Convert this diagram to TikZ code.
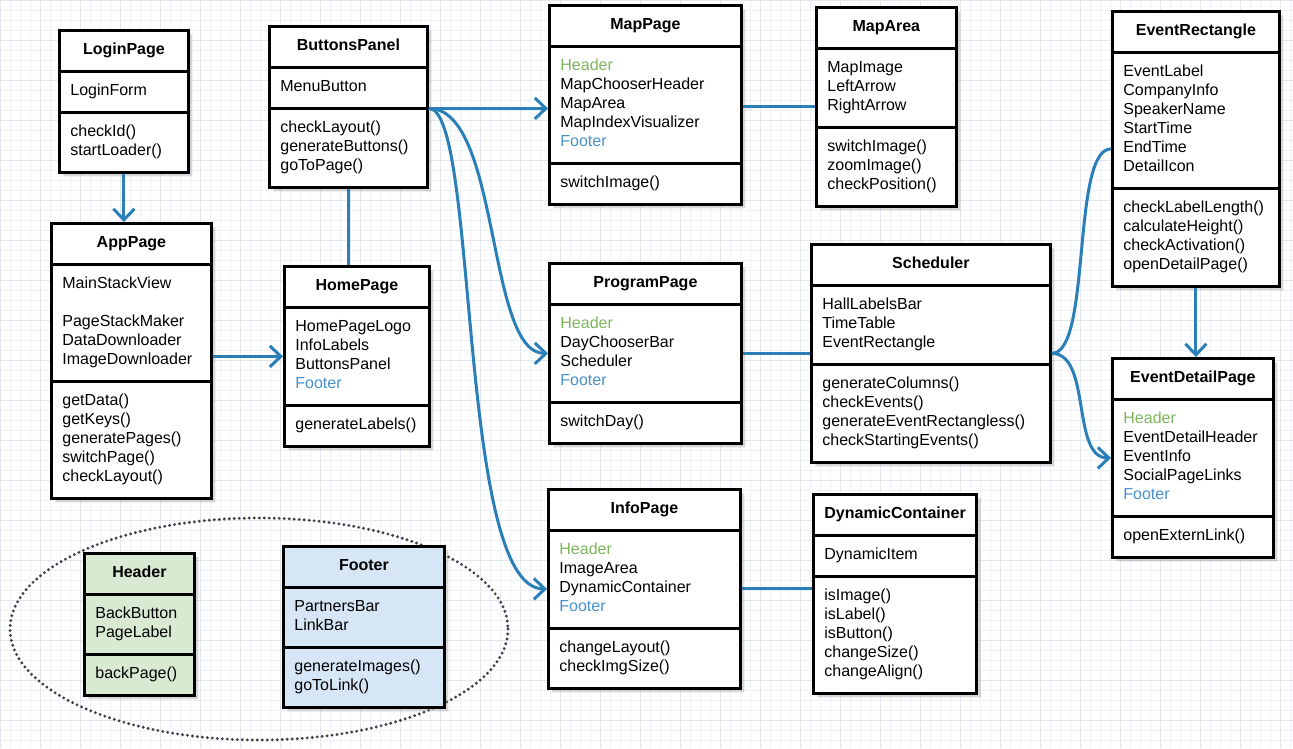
\documentclass[tikz,border=0pt]{standalone}
\usepackage{fontspec}
\setmainfont{Liberation Sans}
\usepackage{xcolor}
\usepackage{tikz}
\usetikzlibrary{arrows.meta,shapes.multipart,shadows}

\definecolor{linkblue}{HTML}{2A7FB8}
\definecolor{hdrgreen}{HTML}{7FB55C}
\definecolor{ftrblue}{HTML}{4A90C9}
\definecolor{hdrfill}{HTML}{D9EAD3}
\definecolor{ftrfill}{HTML}{D6E6F6}
\definecolor{gridminor}{HTML}{EEF1F7}
\definecolor{gridmajor}{HTML}{E1E6EF}

\newcommand{\hdrref}{\textcolor{hdrgreen}{Header}}
\newcommand{\ftrref}{\textcolor{ftrblue}{Footer}}

\begin{document}
\begin{tikzpicture}[
      x=1pt, y=-1pt,
      cls/.style={rectangle split, rectangle split parts=3,
                  rectangle split part align={center,left,left},
                  draw=black, line width=2.8pt, fill=white, anchor=north west,
                  inner xsep=11pt, inner ysep=9.6pt, align=left,
                  font=\fontsize{16}{19}\selectfont,
                  drop shadow={shadow xshift=4pt, shadow yshift=-4pt, opacity=0.3}},
      conn/.style={-{Straight Barb[length=11pt,width=21pt]}, draw=linkblue, line width=3pt},
      link/.style={draw=linkblue, line width=3pt},
      ring/.style={draw=black!75, line width=3.2pt, dash pattern=on 0pt off 5pt, line cap=round}
    ]
    \useasboundingbox (0,0) rectangle (1293,748);
    \fill[white] (0,0) rectangle (1293,748);
    \draw[gridminor, line width=0.7pt] (0,0) grid[xstep=10pt, ystep=10pt] (1293,748);
    \draw[gridmajor, line width=0.9pt] (0,0) grid[xstep=40pt, ystep=40pt] (1293,748);

    % shared parts
    \draw[ring] (259,629) ellipse [x radius=249, y radius=111];

    \node[cls, minimum width=129pt] (login) at (58,29)
      {\strut\textbf{LoginPage}
       \nodepart{two}\strut LoginForm
       \nodepart{three}\strut checkId()\\startLoader()\strut};
    \node[cls, minimum width=160pt] (app) at (50,222)
      {\strut\textbf{AppPage}
       \nodepart{two}\strut MainStackView\\\strut\\PageStackMaker\\DataDownloader\\ImageDownloader\strut
       \nodepart{three}\strut getData()\\getKeys()\\generatePages()\\switchPage()\\checkLayout()\strut};
    \node[cls, minimum width=158pt] (btns) at (268,25)
      {\strut\textbf{ButtonsPanel}
       \nodepart{two}\strut MenuButton
       \nodepart{three}\strut checkLayout()\\generateButtons()\\goToPage()\strut};
    \node[cls, minimum width=145pt] (home) at (283,265)
      {\strut\textbf{HomePage}
       \nodepart{two}\strut HomePageLogo\\InfoLabels\\ButtonsPanel\\\ftrref\strut
       \nodepart{three}\strut generateLabels()};
    \node[cls, minimum width=192pt] (map) at (548,4)
      {\strut\textbf{MapPage}
       \nodepart{two}\strut\hdrref\\MapChooserHeader\\MapArea\\MapIndexVisualizer\\\ftrref\strut
       \nodepart{three}\strut switchImage()};
    \node[cls, minimum width=140pt] (marea) at (815,6)
      {\strut\textbf{MapArea}
       \nodepart{two}\strut MapImage\\LeftArrow\\RightArrow\strut
       \nodepart{three}\strut switchImage()\\zoomImage()\\checkPosition()\strut};
    \node[cls, minimum width=167pt] (evrect) at (1111,10)
      {\strut\textbf{EventRectangle}
       \nodepart{two}\strut EventLabel\\CompanyInfo\\SpeakerName\\StartTime\\EndTime\\DetailIcon\strut
       \nodepart{three}\strut checkLabelLength()\\calculateHeight()\\checkActivation()\\openDetailPage()\strut};
    \node[cls, minimum width=192pt] (prog) at (548,262)
      {\strut\textbf{ProgramPage}
       \nodepart{two}\strut\hdrref\\DayChooserBar\\Scheduler\\\ftrref\strut
       \nodepart{three}\strut switchDay()};
    \node[cls, minimum width=239pt] (sched) at (810,243)
      {\strut\textbf{Scheduler}
       \nodepart{two}\strut HallLabelsBar\\TimeTable\\EventRectangle\strut
       \nodepart{three}\strut generateColumns()\\checkEvents()\\generateEventRectangless()\\checkStartingEvents()\strut};
    \node[cls, minimum width=161pt] (evdet) at (1111,357)
      {\strut\textbf{EventDetailPage}
       \nodepart{two}\strut\hdrref\\EventDetailHeader\\EventInfo\\SocialPageLinks\\\ftrref\strut
       \nodepart{three}\strut openExternLink()};
    \node[cls, minimum width=192pt] (info) at (547,488)
      {\strut\textbf{InfoPage}
       \nodepart{two}\strut\hdrref\\ImageArea\\DynamicContainer\\\ftrref\strut
       \nodepart{three}\strut changeLayout()\\checkImgSize()\strut};
    \node[cls, minimum width=141pt] (dyn) at (812,493)
      {\strut\textbf{DynamicContainer}
       \nodepart{two}\strut DynamicItem
       \nodepart{three}\strut isImage()\\isLabel()\\isButton()\\changeSize()\\changeAlign()\strut};
    \node[cls, fill=hdrfill, minimum width=110pt] (hdr) at (83,552)
      {\strut\textbf{Header}
       \nodepart{two}\strut BackButton\\PageLabel\strut
       \nodepart{three}\strut backPage()};
    \node[cls, fill=ftrfill, minimum width=161pt] (ftr) at (282,545)
      {\strut\textbf{Footer}
       \nodepart{two}\strut PartnersBar\\LinkBar\strut
       \nodepart{three}\strut generateImages()\\goToLink()\strut};

    % connectors
    \draw[conn] (login.south) -- (login.south |- app.north);
    \draw[conn] (app.east |- home.west) -- (home.west);
    \draw[link] (btns.south) -- (btns.south |- home.north);
    \draw[conn] (btns.two split east) -- (btns.two split east -| map.west);
    \draw[conn] (btns.two split east) .. controls +(72,0) and +(-62,0) .. (prog.west);
    \draw[conn] (btns.two split east) .. controls +(50,0) and +(-90,0) .. (info.west);
    \draw[link] (map.east |- marea.west) -- (marea.west);
    \draw[link] (prog.east) -- (sched.west);
    \draw[link] (sched.east) .. controls +(40,0) and +(-40,0) .. (evrect.west);
    \draw[conn] (sched.east) .. controls +(40,0) and +(-40,0) .. (evdet.west);
    \draw[conn] (evrect.south) -- (evrect.south |- evdet.north);
    \draw[link] (info.east) -- (info.east -| dyn.west);
\end{tikzpicture}
\end{document}
